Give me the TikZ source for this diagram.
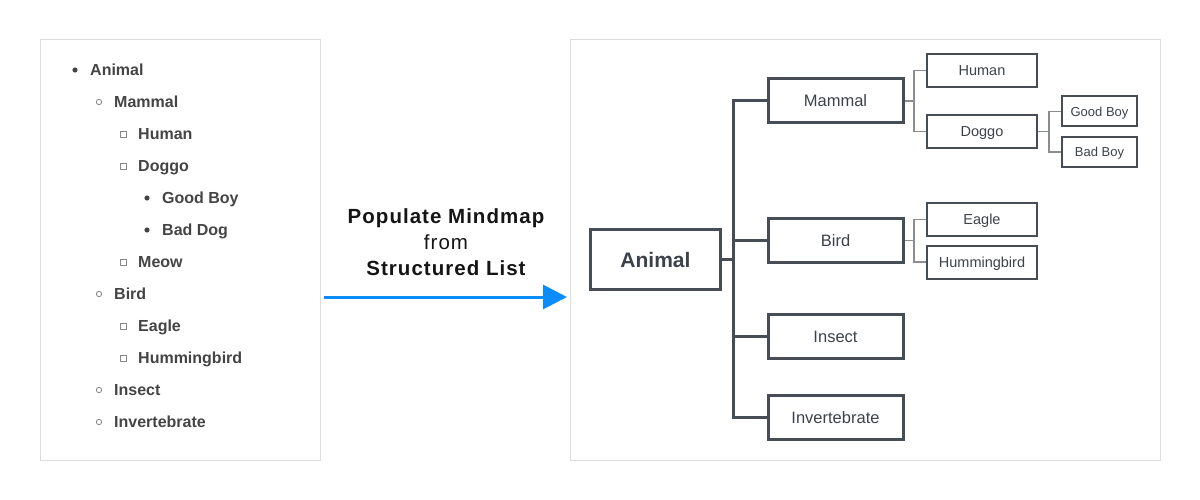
\documentclass[tikz,border=0pt]{standalone}
\usepackage{fontspec}
\setmainfont{Liberation Sans}
\usetikzlibrary{arrows.meta,calc}
\definecolor{panel}{HTML}{DDDDDD}
\definecolor{listtxt}{HTML}{444444}
\definecolor{bulletgray}{HTML}{888888}
\definecolor{boxline}{HTML}{474D55}
\definecolor{boxtxt}{HTML}{3C4249}
\definecolor{thinline}{HTML}{8A8D91}
\definecolor{arrowblue}{HTML}{0A8CFA}
\definecolor{midtxt}{HTML}{151515}
\tikzset{
  listitem/.style={anchor=west,inner sep=0pt,text height=11.5pt,text depth=0pt,text=listtxt,font=\fontsize{16}{19}\selectfont\bfseries},
  dotbullet/.style={fill=listtxt,draw=none},
  ringbullet/.style={draw=bulletgray,line width=0.8pt,fill=white},
  sqbullet/.style={draw=bulletgray,line width=0.8pt,fill=white},
  bigbox/.style={draw=boxline,line width=3pt,text=boxtxt,inner sep=0pt,text height=11.8pt,text depth=0pt,minimum width=135pt,minimum height=44pt,font=\fontsize{16.5}{19}\selectfont},
  rootbox/.style={bigbox,text height=15pt,minimum width=130pt,minimum height=60pt,font=\fontsize{21}{25}\selectfont\bfseries},
  midbox/.style={draw=boxline,line width=2pt,text=boxtxt,inner sep=0pt,text height=10.4pt,text depth=0pt,minimum width=110pt,minimum height=33pt,font=\fontsize{14.5}{17}\selectfont},
  smallbox/.style={midbox,text height=9.3pt,minimum width=75pt,minimum height=30pt,font=\fontsize{13}{15}\selectfont},
  trunk/.style={draw=boxline,line width=3pt},
  twig/.style={draw=thinline,line width=1.3pt},
  midtext/.style={text=midtxt,inner sep=0pt,text height=14.7pt,text depth=0pt}
}
\begin{document}
\begin{tikzpicture}[x=1pt,y=-1pt]
\useasboundingbox (0,0) rectangle (1200,500);
% panels
\draw[panel,line width=1pt] (40,40) rectangle (320,460);
\draw[panel,line width=1pt] (570,40) rectangle (1160,460);
% list
\node[listitem] (l1) at (90,70) {Animal};
\node[listitem] (l2) at (114,102) {Mammal};
\node[listitem] (l3) at (138,134) {Human};
\node[listitem] (l4) at (138,166) {Doggo};
\node[listitem] (l5) at (162,198) {Good Boy};
\node[listitem] (l6) at (162,230) {Bad Dog};
\node[listitem] (l7) at (138,262) {Meow};
\node[listitem] (l8) at (114,294) {Bird};
\node[listitem] (l9) at (138,326) {Eagle};
\node[listitem] (l10) at (138,358) {Hummingbird};
\node[listitem] (l11) at (114,390) {Insect};
\node[listitem] (l12) at (114,422) {Invertebrate};
\fill[dotbullet] (75,70) circle (2.6);
\fill[dotbullet] (147,198) circle (2.6);
\fill[dotbullet] (147,230) circle (2.6);
\foreach \yy in {102,294,390,422} \draw[ringbullet] (99,\yy) circle (2.7);
\foreach \yy in {134,166,262,326,358} \draw[sqbullet] (120,\yy-3) rectangle (126,\yy+3);
% middle text and arrow
\node[midtext,font=\fontsize{20.5}{24}\selectfont\bfseries\addfontfeature{LetterSpace=5}] (m1) at (446,216) {Populate Mindmap};
\node[midtext,font=\fontsize{20.5}{24}\selectfont\addfontfeature{LetterSpace=5}] (m2) at (446,242) {from};
\node[midtext,font=\fontsize{20.5}{24}\selectfont\bfseries\addfontfeature{LetterSpace=5}] (m3) at (446,268) {Structured List};
\coordinate (as) at (324,297);
\coordinate (ae) at (567,297);
\draw[arrowblue,line width=3pt,-{Triangle[length=24pt,width=24pt]}] (as) -- (ae);
% mindmap
\node[rootbox] (animal) at (655.5,259.5) {Animal};
\node[bigbox] (mammal) at (835.5,101) {Mammal};
\node[bigbox] (bird) at (835.5,240.5) {Bird};
\node[bigbox] (insect) at (835.5,336.5) {Insect};
\node[bigbox] (invert) at (835.5,417.5) {Invertebrate};
\node[midbox] (human) at (982,70.5) {Human};
\node[midbox] (doggo) at (982,131.5) {Doggo};
\node[midbox] (eagle) at (982,219.5) {Eagle};
\node[midbox] (humming) at (982,262) {Hummingbird};
\node[smallbox] (good) at (1099.5,111.5) {Good Boy};
\node[smallbox] (bad) at (1099.5,152) {Bad Boy};
% trunk connectors
\coordinate (t) at (733,259.5);
\draw[trunk] (animal.east) -- (animal.east -| t);
\draw[trunk] (mammal.west) -- (mammal.west -| t) -- (invert.west -| t) -- (invert.west);
\draw[trunk] (bird.west) -- (bird.west -| t);
\draw[trunk] (insect.west) -- (insect.west -| t);
% mammal twigs
\coordinate (tm) at (914,101);
\draw[twig] (mammal.east) -- (tm);
\draw[twig] (human.west) -- (human.west -| tm) -- (doggo.west -| tm) -- (doggo.west);
% doggo twigs
\coordinate (td) at (1049,131.5);
\draw[twig] (doggo.east) -- (td);
\draw[twig] (good.west) -- (good.west -| td) -- (bad.west -| td) -- (bad.west);
% bird twigs
\coordinate (tb) at (914,240.5);
\draw[twig] (bird.east) -- (tb);
\draw[twig] (eagle.west) -- (eagle.west -| tb) -- (humming.west -| tb) -- (humming.west);
\end{tikzpicture}
\end{document}
